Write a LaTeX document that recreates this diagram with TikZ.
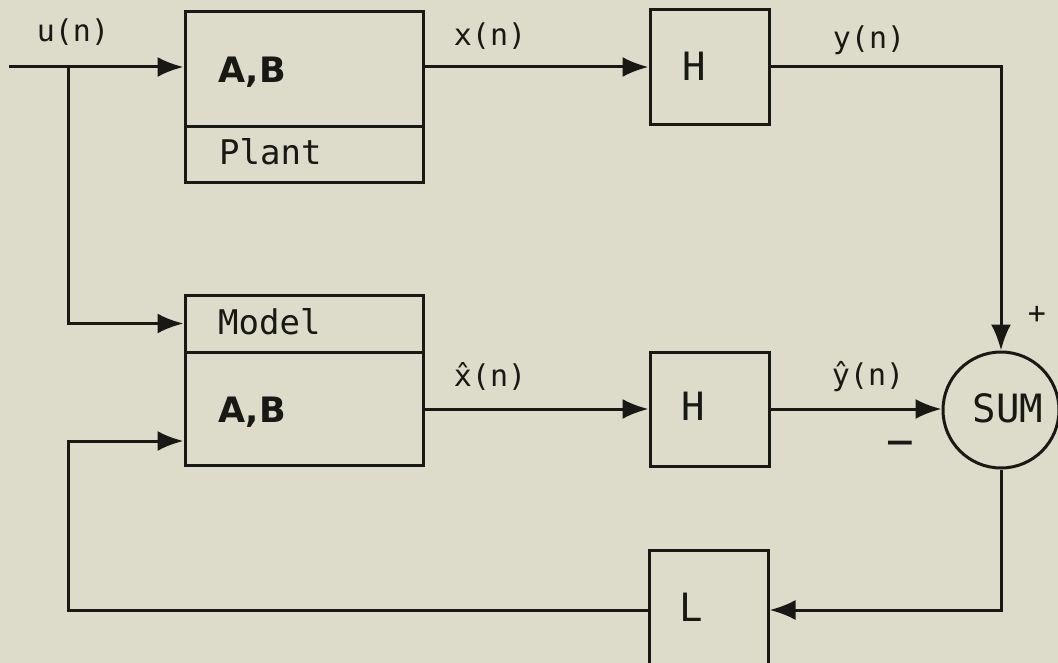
\documentclass[tikz,border=0pt]{standalone}
\usepackage{fontspec}
\setmonofont{DejaVu Sans Mono}
\newfontfamily\boldfam{DejaVu Sans}
\usetikzlibrary{arrows.meta}
\definecolor{paper}{RGB}{221,219,201}
\definecolor{ink}{RGB}{24,24,20}
\begin{document}
\begin{tikzpicture}[x=1pt,y=-1pt,
  every node/.style={text=ink, inner sep=0pt},
  txt/.style={font=\ttfamily\fontsize{34}{40}\selectfont},
  bold/.style={font=\boldfam\bfseries\fontsize{35}{40}\selectfont},
  lbl/.style={font=\ttfamily\fontsize{30}{36}\selectfont},
  big/.style={font=\ttfamily\fontsize{39}{44}\selectfont},
  sign/.style={font=\ttfamily\fontsize{30}{34}\selectfont},
  box/.style={draw=ink, line width=3pt, rectangle},
  wire/.style={draw=ink, line width=3pt},
  arr/.style={wire, -{Latex[length=26pt,width=20pt]}}]
\fill[paper] (0,0) rectangle (1058,663);
\clip (0,0) rectangle (1058,663);
% blocks
\node[box, minimum width=238pt, minimum height=115pt] (plantTop) at (304,69.5) {};
\node[box, minimum width=238pt, minimum height=56pt] (plantBot) at (304,155) {};
\node[box, minimum width=119pt, minimum height=115pt] (hTop) at (709.5,67.5) {};
\node[box, minimum width=238pt, minimum height=57pt] (modelTop) at (304,323.5) {};
\node[box, minimum width=238pt, minimum height=113pt] (modelBot) at (304,408.5) {};
\node[box, minimum width=119pt, minimum height=114pt] (hLow) at (709.5,409) {};
\node[box, minimum width=119pt, minimum height=120pt] (lBox) at (708.5,610) {};
\node[draw=ink, line width=3pt, circle, minimum size=116pt] (sum) at (1001,410) {};
% texts
\node[bold, anchor=west] (abP) at (218,72) {A,B};
\node[txt, anchor=west] (plantTxt) at (219,152) {Plant};
\node[txt, anchor=west] (modelTxt) at (218,322) {Model};
\node[bold, anchor=west] (abM) at (218,412) {A,B};
\node[lbl] (uLbl) at (73,32) {u(n)};
\node[lbl] (xLbl) at (490,36) {x(n)};
\node[lbl] (yLbl) at (869,40) {y(n)};
\node[lbl] (xhLbl) at (490,376) {\^x(n)};
\node[lbl] (yhLbl) at (868,377) {\^y(n)};
\node[big] (hTopTxt) at (694,66) {H};
\node[big] (hLowTxt) at (693,406) {H};
\node[big] (lTxt) at (691,607) {L};
\node[big] (sumTxt) at (1008,408) {SUM};
\node[sign] (plus) at (1037,315) {+};
\node[sign, font=\ttfamily\fontsize{46}{50}\selectfont] (minus) at (900,449) {−};
% connectors
\coordinate (inStart) at (9,67);
\coordinate (split) at (68,67);
\coordinate (fbCorner) at (68,610);
\coordinate (fbIn) at (68,441);
\draw[arr] (inStart) -- (plantTop.west |- inStart);
\draw[arr] (split) |- (modelTop.west);
\draw[arr] (plantTop.east |- split) -- (hTop.west |- split);
\draw[arr] (hTop.east |- split) -| (sum.north);
\draw[arr] (modelBot.east |- hLow.west) -- (hLow.west);
\draw[arr] (hLow.east) -- (hLow.east -| sum.west);
\draw[arr] (sum.south) |- (lBox.east);
\draw[arr] (lBox.west) -- (fbCorner) -- (fbIn) -- (modelBot.west |- fbIn);
\end{tikzpicture}
\end{document}
